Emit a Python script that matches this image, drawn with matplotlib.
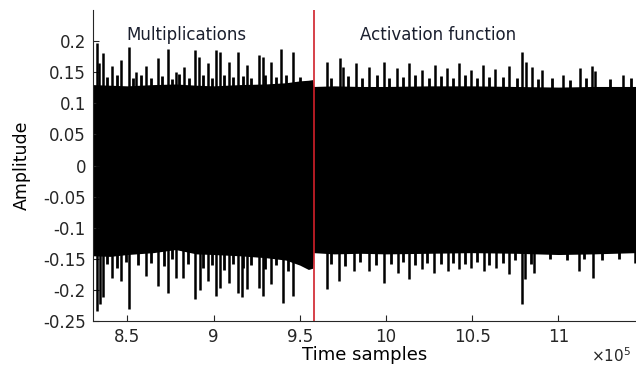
import numpy as np
import matplotlib
matplotlib.use('Agg')
import matplotlib.pyplot as plt

plt.rcParams['font.family'] = ['DejaVu Sans']

# time axis in units of 1e5 samples
boundary = 9.58

# base envelope of the dense trace
env_x  = [8.30, 8.40, 8.50, 8.65, 8.78, 8.90, 9.00, 9.15, 9.30, 9.42, 9.50, 9.55, 9.575,
          9.58, 9.70, 9.85, 10.0, 10.25, 10.5, 10.75, 11.0, 11.2, 11.45]
env_hi = [0.130, 0.129, 0.128, 0.130, 0.131, 0.129, 0.128, 0.130, 0.131, 0.133, 0.136, 0.137, 0.138,
          0.127, 0.128, 0.127, 0.127, 0.128, 0.128, 0.127, 0.126, 0.127, 0.127]
env_lo = [-0.145, -0.146, -0.143, -0.140, -0.135, -0.142, -0.143, -0.145, -0.148, -0.152, -0.160, -0.167, -0.165,
          -0.140, -0.142, -0.141, -0.142, -0.141, -0.140, -0.141, -0.143, -0.142, -0.140]

# positive spikes
up_x = [8.326, 8.337, 8.360, 8.413, 8.465, 8.512, 8.552, 8.610, 8.680, 8.733, 8.785, 8.826,
        8.890, 8.913, 8.965, 9.012, 9.035, 9.087, 9.140, 9.192, 9.262, 9.285, 9.331, 9.390, 9.459,
        9.657, 9.733, 9.750, 9.826, 9.901, 9.988, 10.064, 10.134, 10.209, 10.285, 10.355, 10.424,
        10.494, 10.564, 10.634, 10.715, 10.791, 10.814, 10.849, 10.907, 11.029, 11.128, 11.192,
        11.215, 11.372]
up_y = [0.197, 0.165, 0.180, 0.160, 0.170, 0.190, 0.150, 0.160, 0.172, 0.187, 0.150, 0.158,
        0.185, 0.175, 0.164, 0.185, 0.183, 0.167, 0.183, 0.161, 0.177, 0.175, 0.166, 0.187, 0.182,
        0.166, 0.172, 0.158, 0.164, 0.158, 0.166, 0.156, 0.164, 0.153, 0.161, 0.156, 0.164,
        0.153, 0.161, 0.155, 0.160, 0.183, 0.166, 0.158, 0.153, 0.145, 0.156, 0.160,
        0.152, 0.145]

# small bumps on top of the band
up_minor_x = [8.38, 8.44, 8.53, 8.58, 8.64, 8.70, 8.76, 8.80, 8.86, 8.94, 8.99, 9.06, 9.11, 9.17,
              9.22, 9.30, 9.36, 9.42, 9.50, 9.68, 9.78, 9.86, 9.95, 10.02, 10.10, 10.17, 10.25,
              10.32, 10.39, 10.46, 10.53, 10.60, 10.68, 10.76, 10.88, 10.96, 11.07, 11.16, 11.30, 11.42]
up_minor_y = [0.142, 0.145, 0.140, 0.146, 0.141, 0.144, 0.139, 0.147, 0.141, 0.145, 0.140, 0.146, 0.142, 0.144,
              0.141, 0.146, 0.142, 0.145, 0.143, 0.141, 0.144, 0.140, 0.145, 0.141, 0.143, 0.146, 0.140,
              0.144, 0.141, 0.145, 0.140, 0.143, 0.142, 0.140, 0.139, 0.141, 0.138, 0.140, 0.139, 0.141]

# negative spikes
dn_x = [8.326, 8.340, 8.360, 8.413, 8.465, 8.512, 8.610, 8.680, 8.733, 8.785, 8.820, 8.890,
        8.919, 8.965, 9.012, 9.035, 9.087, 9.140, 9.163, 9.192, 9.262, 9.285, 9.331, 9.401, 9.459,
        9.657, 9.727, 9.814, 9.901, 9.988, 10.070, 10.134, 10.209, 10.279, 10.360, 10.424, 10.494,
        10.570, 10.640, 10.715, 10.791, 10.808, 10.860, 11.122, 11.198, 11.442]
dn_y = [-0.234, -0.223, -0.212, -0.180, -0.185, -0.231, -0.177, -0.194, -0.205, -0.180, -0.180, -0.215,
        -0.200, -0.185, -0.210, -0.196, -0.188, -0.205, -0.212, -0.198, -0.196, -0.210, -0.190, -0.221, -0.210,
        -0.198, -0.185, -0.169, -0.169, -0.188, -0.172, -0.182, -0.166, -0.172, -0.169, -0.166, -0.165,
        -0.169, -0.165, -0.174, -0.223, -0.182, -0.172, -0.169, -0.180, -0.156]

dn_minor_x = [8.38, 8.44, 8.49, 8.56, 8.64, 8.71, 8.76, 8.85, 8.94, 8.99, 9.06, 9.11, 9.17, 9.22,
              9.30, 9.36, 9.43, 9.68, 9.76, 9.85, 9.94, 10.03, 10.10, 10.17, 10.24, 10.32, 10.39,
              10.46, 10.53, 10.60, 10.68, 10.75, 10.84, 10.95, 11.05, 11.15, 11.25, 11.35]
dn_minor_y = [-0.158, -0.165, -0.155, -0.160, -0.156, -0.162, -0.150, -0.158, -0.165, -0.160, -0.168, -0.158, -0.164, -0.160,
              -0.166, -0.160, -0.170, -0.158, -0.162, -0.155, -0.160, -0.158, -0.155, -0.160, -0.156, -0.158, -0.156,
              -0.158, -0.155, -0.160, -0.157, -0.152, -0.158, -0.150, -0.152, -0.150, -0.152, -0.150]

yticks = [-0.25, -0.2, -0.15, -0.1, -0.05, 0, 0.05, 0.1, 0.15, 0.2]
ytick_labels = ['-0.25', '-0.2', '-0.15', '-0.1', '-0.05', '0', '0.05', '0.1', '0.15', '0.2']
xticks = [8.5, 9, 9.5, 10, 10.5, 11]
xtick_labels = ['8.5', '9', '9.5', '10', '10.5', '11']

fig = plt.figure(figsize=(6.36, 3.67), dpi=100)
ax = fig.add_axes([0.146, 0.125, 0.854, 0.848])

ax.fill_between(env_x, env_lo, env_hi, color='black', lw=0)
ax.vlines(up_minor_x, 0, up_minor_y, color='black', lw=2.0)
ax.vlines(dn_minor_x, 0, dn_minor_y, color='black', lw=2.0)
ax.vlines(up_x, 0, up_y, color='black', lw=1.8)
ax.vlines(dn_x, 0, dn_y, color='black', lw=1.8)
ax.axvline(boundary, color='#d0202a', lw=1.2)

ax.set_xlim(8.30, 11.45)
ax.set_ylim(-0.25, 0.25)
ax.set_yticks(yticks)
ax.set_yticklabels(ytick_labels)
ax.set_xticks(xticks)
ax.set_xticklabels(xtick_labels)
ax.tick_params(direction='in', length=4, labelsize=12, colors='#262626', pad=5)
for s in ['top', 'right']:
    ax.spines[s].set_visible(False)
for s in ['left', 'bottom']:
    ax.spines[s].set_color('#262626')
    ax.spines[s].set_linewidth(0.8)

ax.set_xlabel('Time samples', fontsize=13, labelpad=0)
ax.set_ylabel('Amplitude', fontsize=12.5, labelpad=9)
ax.text(11.19, -0.305, r'$\times10^5$', fontsize=11, color='#262626', ha='left', va='center')

ax.text(8.84, 0.21, 'Multiplications', fontsize=12, color='#1a1f2e', ha='center', va='center')
ax.text(10.30, 0.21, 'Activation function', fontsize=12, color='#1a1f2e', ha='center', va='center')

plt.savefig('out.png', dpi=100)
